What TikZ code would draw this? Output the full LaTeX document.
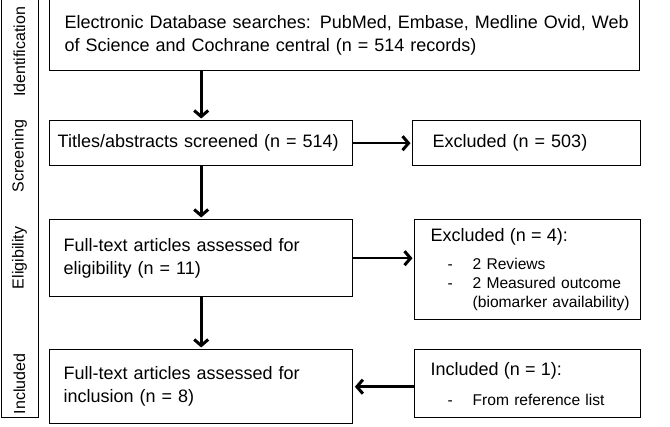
\documentclass[tikz,border=0pt]{standalone}
\usepackage{fontspec}
\setmainfont{Liberation Sans}
\usetikzlibrary{arrows.meta,positioning}
\newcommand{\listitem}[1]{\hspace*{17pt}\makebox[25pt][l]{-}#1}
\newcommand{\listmore}[1]{\hspace*{42pt}#1}
\newcommand{\boxhead}[1]{{\fontsize{18}{23}\selectfont #1}}

\begin{document}
\begin{tikzpicture} [x=1pt, y=-1pt,
    frame/.style = {draw, line width=1.4pt, anchor=north west, inner sep=0pt},
    box/.style = {frame, align=left, font=\fontsize{18}{23}\selectfont},
    side/.style = {frame, align=left, font=\fontsize{15.6}{19}\selectfont},
    phase/.style = {rotate=90, font=\fontsize{16}{19}\selectfont},
    flow/.style = {-{Straight Barb[length=6pt,width=14pt,line width=3pt]}, line width=2.6pt, shorten >=1.5pt}]
\useasboundingbox (0,0) rectangle (670,427);
\node (stages) [frame, minimum width=37pt, minimum height=418pt] at (1,-1) {};
\node (l0) [phase] at (19.5,52) {Identification};
\node (l1) [phase] at (19.5,156) {Screening};
\node (l2) [phase] at (19.5,258) {Eligibility};
\node (l3) [phase] at (19.5,384) {Included};
\node (v0) [box, text width=560pt, inner xsep=15pt, minimum height=71pt] at (49,-1)
    {\mbox{Electronic Database searches: PubMed, Embase, Medline Ovid, Web}\\of Science and Cochrane central (n = 514 records)};
\node (v1) [box, text width=287pt, inner xsep=8pt, minimum height=45pt] at (49,120)
    {Titles/abstracts screened (n = 514)};
\node (x1) [box, text width=188pt, inner xsep=20pt, minimum height=45pt] at (412,120)
    {Excluded (n = 503)};
\node (v2) [box, text width=275pt, inner xsep=14pt, minimum height=77pt] at (49,219)
    {Full-text articles assessed for\\eligibility (n = 11)};
\node (x2) [side, text width=194pt, inner xsep=16pt, minimum height=100pt] at (414,219)
    {\boxhead{Excluded (n = 4):}\\[9pt]\listitem{2 Reviews}\\\listitem{2 Measured outcome}\\\listmore{\mbox{(biomarker availability)}}};
\node (v3) [box, text width=275pt, inner xsep=14pt, minimum height=74pt] at (49,349)
    {Full-text articles assessed for\\inclusion (n = 8)};
\node (x3) [side, text width=194pt, inner xsep=16pt, minimum height=68pt] at (414,349)
    {\boxhead{Included (n = 1):}\\[11pt]\listitem{From reference list}};
\path [flow]
    (v0.south -| v1.north) edge (v1.north)
    (v1.south) edge (v2.north)
    (v2.south) edge (v3.north)
    (v1.east) edge (x1.west)
    (v2.east) edge (v2.east -| x2.west)
    (x3.west |- v3.east) edge (v3.east);
\end{tikzpicture}
\end{document}
